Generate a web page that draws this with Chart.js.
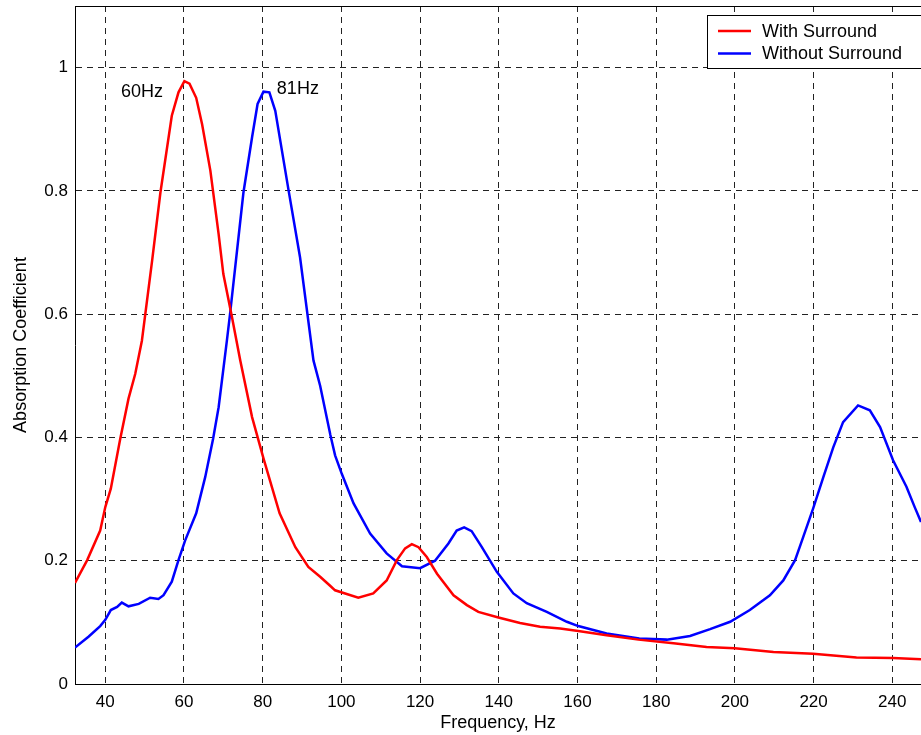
<!DOCTYPE html>
<html>
<head>
<meta charset="utf-8">
<script src="https://cdn.jsdelivr.net/npm/chart.js@4/dist/chart.umd.min.js"></script>
<style>
  html, body { margin: 0; padding: 0; background: #fff; }
  #wrap { width: 921px; height: 735px; }
</style>
</head>
<body>
<div id="wrap"><canvas id="grafico"></canvas></div>
<script>
// frequency (Hz) and absorption values
const freqCom = [32.3, 35.4, 38.7, 40, 41.4, 43.8, 45.9, 47.6, 49.3, 51.9, 54, 56.9, 58.6, 60.1, 61.4, 63.1, 64.6, 66.7, 68.8, 70, 72.2, 74.3, 77.3, 80.2, 84.3, 88.3, 91.6, 94.6, 97.2, 98.4, 104.3, 108.1, 111.5, 114.1, 116.2, 117.9, 119.6, 121.7, 124.3, 128.5, 131.9, 134.8, 139.9, 145.4, 150.5, 155.6, 160.2, 167.4, 175.5, 184.4, 192.8, 200, 209.8, 219.9, 230.9, 240.2, 247.3]
const valCom = [0.164, 0.201, 0.249, 0.287, 0.317, 0.398, 0.463, 0.503, 0.557, 0.687, 0.797, 0.922, 0.96, 0.978, 0.974, 0.951, 0.908, 0.833, 0.73, 0.665, 0.595, 0.525, 0.433, 0.366, 0.277, 0.222, 0.19, 0.174, 0.159, 0.152, 0.14, 0.147, 0.168, 0.201, 0.22, 0.227, 0.222, 0.206, 0.179, 0.144, 0.128, 0.117, 0.108, 0.099, 0.093, 0.09, 0.086, 0.079, 0.072, 0.066, 0.06, 0.058, 0.052, 0.049, 0.043, 0.042, 0.04]

const freqSem = [32.3, 35.8, 38.7, 40, 41.4, 43, 44.2, 45.9, 48.5, 51.4, 53.5, 54.8, 56.9, 58.6, 60.3, 63.1, 65.4, 67.4, 68.8, 70.9, 71.7, 75.1, 77.3, 78.7, 80.2, 81.7, 83.2, 84.9, 86.6, 89.5, 92.9, 94.6, 97.2, 98.4, 100.1, 103.1, 107.3, 111.5, 115.4, 120, 123.8, 127.2, 129.3, 131.2, 133.1, 135.7, 139.5, 143.7, 147.1, 152.2, 157.3, 160.2, 167.4, 175.7, 182.7, 188.6, 193.7, 198.8, 203.8, 208.9, 212.3, 215.3, 217.4, 219.9, 222.5, 225, 227.5, 231.3, 234.3, 236.9, 240.2, 243.6, 245.7, 247.3]
const valSem = [0.059, 0.077, 0.094, 0.104, 0.12, 0.125, 0.132, 0.126, 0.13, 0.14, 0.138, 0.144, 0.166, 0.201, 0.233, 0.277, 0.336, 0.398, 0.449, 0.557, 0.6, 0.797, 0.887, 0.941, 0.961, 0.96, 0.93, 0.865, 0.8, 0.692, 0.525, 0.484, 0.404, 0.371, 0.341, 0.293, 0.244, 0.212, 0.191, 0.188, 0.2, 0.228, 0.249, 0.254, 0.248, 0.222, 0.182, 0.147, 0.131, 0.117, 0.101, 0.094, 0.082, 0.074, 0.072, 0.078, 0.089, 0.101, 0.12, 0.144, 0.168, 0.201, 0.239, 0.285, 0.336, 0.384, 0.425, 0.452, 0.444, 0.417, 0.363, 0.32, 0.287, 0.263]

const ticksX = [40, 60, 80, 100, 120, 140, 160, 180, 200, 220, 240]
const ticksY = [0, 0.2, 0.4, 0.6, 0.8, 1]
const rotulos = ['With Surround', 'Without Surround']
const picos = [
  { texto: '60Hz', x: 44, y: 0.961 },
  { texto: '81Hz', x: 83.6, y: 0.966 },
]

function juntaPontos(xs, ys) {
  return xs.map((x, i) => ({ x: x, y: ys[i] }))
}

const fonte = 'Liberation Sans, Arial, sans-serif'

// moldura de cima, legenda e textos dos picos
const extras = {
  id: 'extras',
  afterDatasetsDraw(chart) {
    const ctx = chart.ctx
    const area = chart.chartArea
    const sx = chart.scales.x
    const sy = chart.scales.y
    ctx.save()
    ctx.strokeStyle = '#000'
    ctx.lineWidth = 1
    ctx.beginPath()
    ctx.moveTo(area.left, area.top + 0.5)
    ctx.lineTo(area.right, area.top + 0.5)
    ctx.stroke()

    ctx.fillStyle = '#000'
    ctx.font = '18px ' + fonte
    ctx.textBaseline = 'middle'
    ctx.textAlign = 'left'
    picos.forEach(p => {
      ctx.fillText(p.texto, sx.getPixelForValue(p.x), sy.getPixelForValue(p.y))
    })

    // legenda
    const lx = 707.5, ly = 15.5
    ctx.fillStyle = '#fff'
    ctx.fillRect(lx, ly, 230, 53)
    ctx.strokeStyle = '#000'
    ctx.strokeRect(lx, ly, 230, 53)
    chart.data.datasets.forEach((ds, i) => {
      const yy = 31 + i * 22.5
      ctx.strokeStyle = ds.borderColor
      ctx.lineWidth = 2.5
      ctx.beginPath()
      ctx.moveTo(718, yy)
      ctx.lineTo(751, yy)
      ctx.stroke()
      ctx.fillStyle = '#000'
      ctx.fillText(ds.label, 762, yy + 1)
    })
    ctx.restore()
  }
}

const graficoEl = document.getElementById('grafico')
const grafico = new Chart(graficoEl, {
  type: 'line',
  data: {
    datasets: [
      {
        label: rotulos[0],
        data: juntaPontos(freqCom, valCom),
        borderColor: '#ff0000',
        borderWidth: 2.5,
        pointRadius: 0,
        tension: 0,
      },
      {
        label: rotulos[1],
        data: juntaPontos(freqSem, valSem),
        borderColor: '#0000ff',
        borderWidth: 2.5,
        pointRadius: 0,
        tension: 0,
      },
    ],
  },
  options: {
    responsive: true,
    maintainAspectRatio: false,
    animation: false,
    layout: { padding: { top: 6, right: 0, left: 0, bottom: 0 } },
    plugins: {
      legend: { display: false },
      tooltip: { enabled: false },
    },
    scales: {
      x: {
        type: 'linear',
        min: 32.3,
        max: 247.3,
        afterBuildTicks: scale => { scale.ticks = ticksX.map(v => ({ value: v })) },
        afterFit: scale => { scale.height = 51; scale.paddingLeft = 0; scale.paddingRight = 0 },
        ticks: { color: '#000', font: { family: fonte, size: 17 }, padding: 8, maxRotation: 0 },
        grid: { color: '#222', lineWidth: 1, drawTicks: false },
        border: { display: true, color: '#000', width: 1, dash: [6, 5] },
        title: { display: true, text: 'Frequency, Hz', color: '#000', font: { family: fonte, size: 18 }, padding: { top: 0, bottom: 1 } },
      },
      y: {
        min: 0,
        max: 1.1,
        afterBuildTicks: scale => { scale.ticks = ticksY.map(v => ({ value: v })) },
        afterFit: scale => { scale.width = 75; scale.paddingTop = 0; scale.paddingBottom = 0 },
        ticks: { color: '#000', font: { family: fonte, size: 17 }, padding: 7, callback: v => String(v) },
        grid: { color: '#222', lineWidth: 1, drawTicks: false },
        border: { display: true, color: '#000', width: 1, dash: [6, 5] },
        title: { display: true, text: 'Absorption Coefficient', color: '#000', font: { family: fonte, size: 18 }, padding: { top: 10, bottom: 0 } },
      },
    },
  },
  plugins: [extras],
})
</script>
</body>
</html>
